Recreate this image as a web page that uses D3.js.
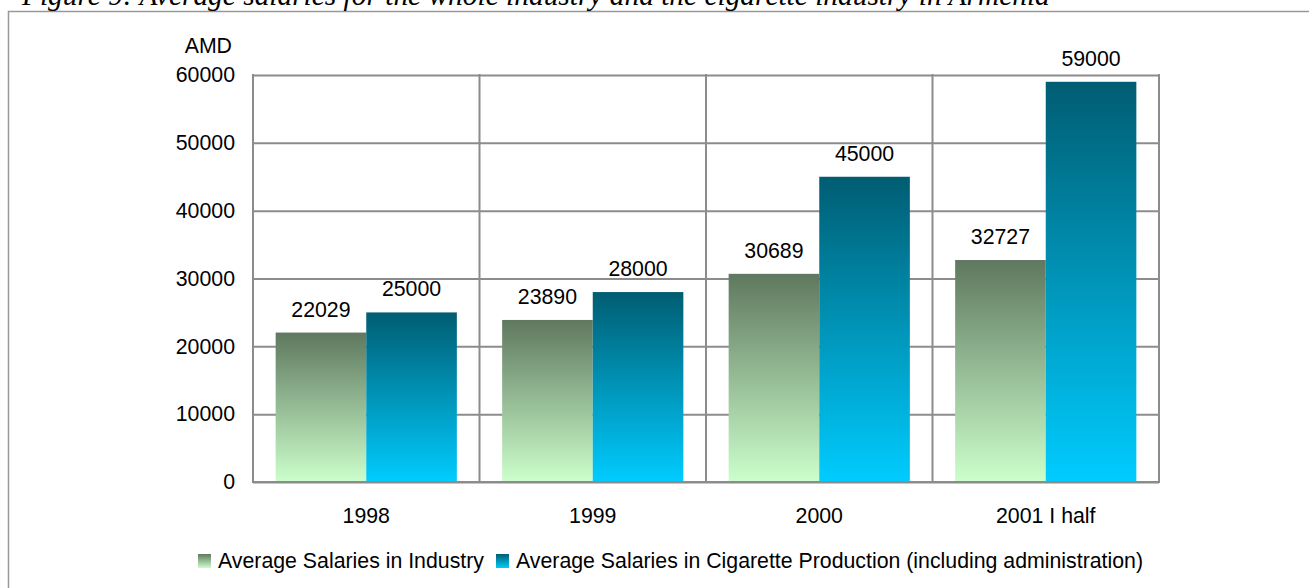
<!DOCTYPE html>
<html>
<head>
<meta charset="utf-8">
<script src="https://cdn.jsdelivr.net/npm/d3@7"></script>
<style>
  html, body { margin: 0; padding: 0; background: #fff; }
  svg { display: block; }
  text { font-family: "Liberation Sans", Arial, sans-serif; fill: #000; }
</style>
</head>
<body>
<svg id="chart" width="1309" height="588"></svg>
<script>
const categories = ["1998", "1999", "2000", "2001 I half"];
const industry = [22029, 23890, 30689, 32727];
const cigarette = [25000, 28000, 45000, 59000];
const seriesNames = ["Average Salaries in Industry", "Average Salaries in Cigarette Production (including administration)"];
const yTicks = [0, 10000, 20000, 30000, 40000, 50000, 60000];
const titleText = "Figure 9: Average salaries for the whole industry and the cigarette industry in Armenia";
const unitLabel = "AMD";

const svg = d3.select("#chart");
const W = 1309, H = 588;
const plot = {left: 253, right: 1159, top: 75, bottom: 482};
const FS = "21.3px";

// gradients
const defs = svg.append("defs");
function grad(id, top, bottom) {
  const g = defs.append("linearGradient").attr("id", id)
    .attr("x1", 0).attr("y1", 0).attr("x2", 0).attr("y2", 1);
  g.append("stop").attr("offset", "0%").attr("stop-color", top);
  g.append("stop").attr("offset", "100%").attr("stop-color", bottom);
}
grad("gGreen", "#5f785f", "#ccffcc");
grad("gBlue", "#005d72", "#00ccff");
const fills = ["url(#gGreen)", "url(#gBlue)"];

// outer frame
svg.append("rect").attr("x", 8.5).attr("y", 11.5).attr("width", W + 20).attr("height", H + 20)
  .attr("fill", "none").attr("stroke", "#999").attr("stroke-width", 1.5);

// title (clipped at top, as in the reference)
svg.append("text").attr("x", 22).attr("y", 5)
  .style("font-family", "'Liberation Serif', 'Times New Roman', serif")
  .style("font-style", "italic").style("font-size", "29.4px")
  .text(titleText);

const x = d3.scaleBand().domain(categories).range([plot.left, plot.right]).paddingInner(0).paddingOuter(0);
const xs = d3.scaleBand().domain([0, 1]).range([0, x.bandwidth()]).paddingInner(0).paddingOuter(0.25);
const y = d3.scaleLinear().domain([0, 60000]).range([plot.bottom, plot.top]);

// horizontal gridlines
const yAxis = d3.axisLeft(y).tickValues(yTicks).tickSize(-(plot.right - plot.left)).tickFormat(d => d).tickPadding(18);
const ya = svg.append("g").attr("transform", `translate(${plot.left},0)`).call(yAxis);
ya.select(".domain").remove();
ya.selectAll(".tick line").attr("stroke", "#8c8c8c").attr("stroke-width", 2);
ya.selectAll(".tick text").style("font-size", FS).style("font-family", "'Liberation Sans', Arial, sans-serif").attr("fill", "#000");

// vertical category dividers
const bounds = categories.map(c => x(c)).concat([plot.right]);
svg.append("g").selectAll("line").data(bounds).join("line")
  .attr("x1", d => d).attr("x2", d => d).attr("y1", plot.top - 1).attr("y2", plot.bottom + 1)
  .attr("stroke", "#8c8c8c").attr("stroke-width", 2);

// bars
const data = categories.map((c, i) => [industry[i], cigarette[i]]);
const groups = svg.append("g").selectAll("g").data(categories).join("g")
  .attr("transform", c => `translate(${x(c)},0)`);
groups.selectAll("rect").data((c, i) => data[i].map((v, s) => ({v, s}))).join("rect")
  .attr("x", d => xs(d.s)).attr("width", xs.bandwidth())
  .attr("y", d => y(d.v)).attr("height", d => plot.bottom - y(d.v))
  .attr("fill", d => fills[d.s]);
groups.selectAll("text.val").data((c, i) => data[i].map((v, s) => ({v, s}))).join("text")
  .attr("class", "val")
  .attr("x", d => xs(d.s) + xs.bandwidth() / 2).attr("y", d => y(d.v) - 16)
  .attr("text-anchor", "middle").style("font-size", FS).text(d => d.v);

// bottom axis line on top
svg.append("line").attr("x1", plot.left - 1).attr("x2", plot.right + 1)
  .attr("y1", plot.bottom).attr("y2", plot.bottom).attr("stroke", "#8c8c8c").attr("stroke-width", 2);

// x labels
svg.append("g").selectAll("text").data(categories).join("text")
  .attr("x", c => x(c) + x.bandwidth() / 2).attr("y", 523)
  .attr("text-anchor", "middle").style("font-size", FS).text(c => c);

// unit label
svg.append("text").attr("x", 232).attr("y", 53).attr("text-anchor", "end")
  .style("font-size", FS).text(unitLabel);

// legend
const lg = svg.append("g");
const legX = [198, 496];
seriesNames.forEach((n, i) => {
  lg.append("rect").attr("x", legX[i]).attr("y", 554).attr("width", 13).attr("height", 14).attr("fill", fills[i]);
  lg.append("text").attr("x", legX[i] + 20).attr("y", 568).style("font-size", FS).text(n);
});
</script>
</body>
</html>
